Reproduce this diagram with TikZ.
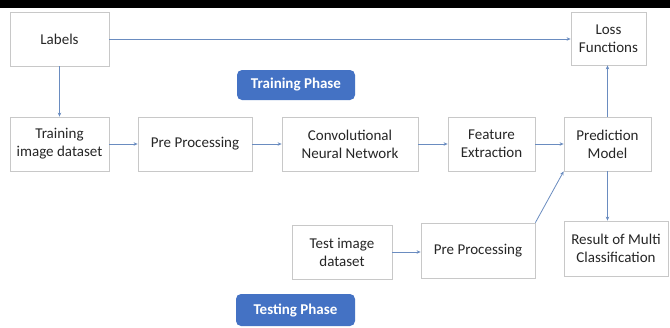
\documentclass[tikz,border=0pt]{standalone}
\usepackage{fontspec}
\setmainfont{Carlito}
\usetikzlibrary{arrows.meta}
\definecolor{boxline}{HTML}{C8C8C8}
\definecolor{arrowc}{HTML}{6A8CC0}
\definecolor{phaseblue}{HTML}{4472C4}
\definecolor{txt}{HTML}{262626}
\tikzset{
  blk/.style={draw=boxline, line width=0.8pt, fill=white, align=center, text=txt, font=\fontsize{15}{18}\selectfont, inner sep=0pt},
  phase/.style={fill=phaseblue, rounded corners=5pt, text=white, font=\fontsize{15}{17}\selectfont\bfseries, inner sep=0pt},
  conn/.style={draw=arrowc, line width=0.8pt, -{Stealth[length=4pt,width=3.5pt]}}
}
\begin{document}
\begin{tikzpicture}[x=1pt,y=-1pt]
\useasboundingbox (0,0) rectangle (670,327);
\fill[white] (0,0) rectangle (670,327);
\fill[black] (0,0) rectangle (670,7.5);
\node[blk, minimum width=99pt, minimum height=54pt] (labels) at (59.5,39) {Labels};
\node[blk, minimum width=99pt, minimum height=54pt] (train) at (59.5,144) {Training\\image dataset};
\node[blk, minimum width=114pt, minimum height=54pt] (pre1) at (195,144) {Pre Processing};
\node[blk, minimum width=136pt, minimum height=54pt] (cnn) at (350,144) {Convolutional\\Neural Network};
\node[blk, minimum width=87pt, minimum height=54pt] (feat) at (491.5,144) {Feature\\Extraction};
\node[blk, minimum width=87pt, minimum height=54pt] (pred) at (607.5,144) {Prediction\\Model};
\node[blk, minimum width=75pt, minimum height=53pt] (loss) at (608.5,38.5) {Loss\\Functions};
\node[blk, minimum width=100pt, minimum height=54pt] (test) at (342,252) {Test image\\dataset};
\node[blk, minimum width=114pt, minimum height=55pt] (pre2) at (478,250.5) {Pre Processing};
\node[blk, minimum width=104pt, minimum height=55pt] (result) at (616,248.5) {Result of Multi\\Classification};
\node[phase, minimum width=118pt, minimum height=30pt] (trainph) at (296,85) {Training Phase};
\node[phase, minimum width=119pt, minimum height=32pt] (testph) at (295.5,310) {Testing Phase};
\draw[conn] (labels.east) -- (labels.east -| loss.west);
\draw[conn] (labels.south) -- (train.north);
\draw[conn] (train.east) -- (pre1.west);
\draw[conn] (pre1.east) -- (cnn.west);
\draw[conn] (cnn.east) -- (feat.west);
\draw[conn] (feat.east) -- (pred.west);
\draw[conn] (pred.north) -- (pred.north |- loss.south);
\draw[conn] (pred.south) -- (pred.south |- result.north);
\draw[conn] (test.east) -- (test.east -| pre2.west);
\draw[conn] (pre2.north east) -- (pred.south west);
\end{tikzpicture}
\end{document}
